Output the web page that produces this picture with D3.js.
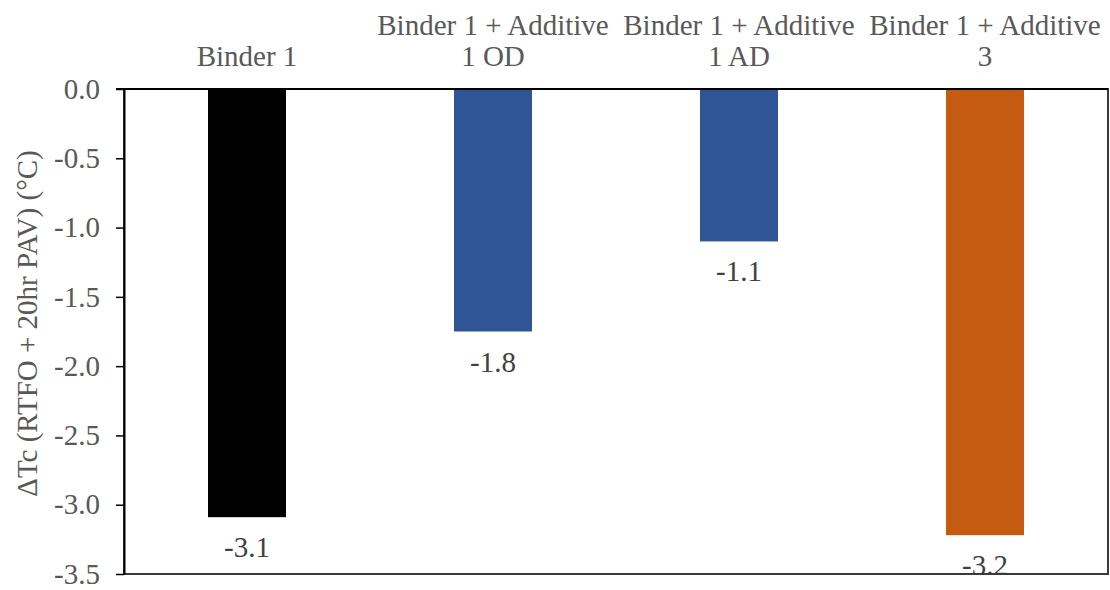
<!DOCTYPE html>
<html><head><meta charset="utf-8">
<script src="https://cdn.jsdelivr.net/npm/d3@7"></script>
<style>body{margin:0;background:#fff} svg{display:block}</style>
</head><body>
<svg id="chart" width="1110" height="590"></svg>
<script>
const categories = ["Binder 1", "Binder 1 + Additive 1 OD", "Binder 1 + Additive 1 AD", "Binder 1 + Additive 3"];
const categoryLines = [["Binder 1"], ["Binder 1 + Additive", "1 OD"], ["Binder 1 + Additive", "1 AD"], ["Binder 1 + Additive", "3"]];
const values = [-3.09, -1.75, -1.10, -3.22];
const valueLabels = ["-3.1", "-1.8", "-1.1", "-3.2"];
const barColors = ["#000000", "#2F5597", "#2F5597", "#C55A11"];
const yTicks = [0, -0.5, -1, -1.5, -2, -2.5, -3, -3.5];
const yTitle = "ΔTc (RTFO + 20hr PAV) (°C)";

const FONT = '"Liberation Serif"';
const FS = 29;
const mLeft = 124, mRight = 1108, mTop = 89, mBottom = 574;

const svg = d3.select("#chart");
const x = d3.scaleBand().domain(categories).range([mLeft, mRight]).paddingInner(0.683).paddingOuter(0.3415);
const y = d3.scaleLinear().domain([-3.5, 0]).range([mBottom, mTop]);

// bars
svg.append("g").selectAll("rect").data(values).join("rect")
  .attr("x", (d, i) => x(categories[i]))
  .attr("width", x.bandwidth())
  .attr("y", d => y(0))
  .attr("height", d => y(d) - y(0))
  .attr("fill", (d, i) => barColors[i]);

// value labels
svg.append("g").selectAll("text").data(values).join("text")
  .attr("x", (d, i) => x(categories[i]) + x.bandwidth() / 2)
  .attr("y", d => y(d) + 40)
  .attr("text-anchor", "middle")
  .style("font-family", FONT).style("font-size", FS + "px")
  .attr("fill", "#404040")
  .text((d, i) => valueLabels[i]);

// plot border (right/bottom)
svg.append("rect")
  .attr("x", mLeft).attr("y", mTop)
  .attr("width", mRight - mLeft).attr("height", mBottom - mTop)
  .attr("fill", "none").attr("stroke", "#3a3a3a").attr("stroke-width", 2);

// y axis
const yAxis = d3.axisLeft(y).tickValues(yTicks).tickSize(8).tickSizeOuter(0).tickPadding(16)
  .tickFormat(d => d.toFixed(1));
const gy = svg.append("g").attr("transform", `translate(${mLeft},0)`).call(yAxis);
gy.attr("font-family", null).attr("font-size", null);
gy.select(".domain").attr("stroke", "#000").attr("stroke-width", 2);
gy.selectAll(".tick line").attr("stroke", "#000").attr("stroke-width", 1.5);
gy.selectAll(".tick text").style("font-family", FONT).style("font-size", FS + "px").attr("fill", "#595959");

// zero line (category axis)
svg.append("line")
  .attr("x1", mLeft - 8).attr("x2", mRight)
  .attr("y1", y(0)).attr("y2", y(0))
  .attr("stroke", "#000").attr("stroke-width", 2);

// category labels on top
const lineH = 31, lastBaseline = 66;
const cg = svg.append("g").selectAll("text").data(categories).join("text")
  .attr("text-anchor", "middle")
  .style("font-family", FONT).style("font-size", FS + "px")
  .attr("fill", "#595959");
cg.each(function(c, i) {
  const lines = categoryLines[i];
  const t = d3.select(this);
  lines.forEach((ln, j) => {
    t.append("tspan")
      .attr("x", x(c) + x.bandwidth() / 2)
      .attr("y", lastBaseline - (lines.length - 1 - j) * lineH)
      .text(ln);
  });
});

// y title
svg.append("text")
  .attr("transform", `translate(37,${(mTop + mBottom) / 2 - 8}) rotate(-90)`)
  .attr("text-anchor", "middle")
  .style("font-family", FONT).style("font-size", FS + "px")
  .attr("fill", "#595959")
  .text(yTitle);
</script>
</body></html>
